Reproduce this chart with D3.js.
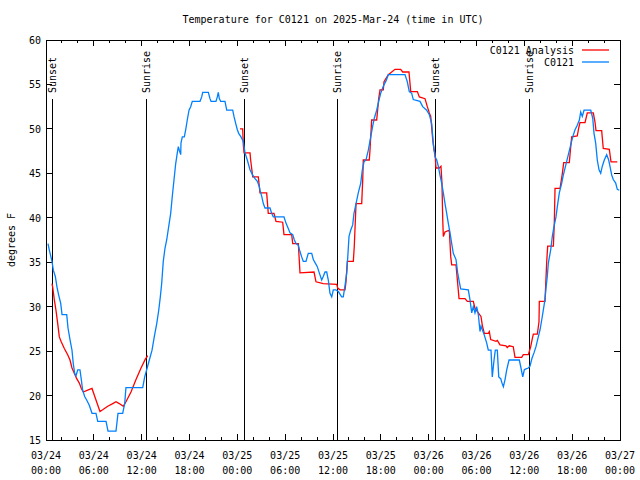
<!DOCTYPE html>
<html lang="en">
<head>
<meta charset="UTF-8">
<title>Temperature for C0121</title>
<style>
  body { margin: 0; background: #fff; }
  svg text { font-family: "DejaVu Sans Mono", "Liberation Mono", monospace; font-size: 10px; fill: #000; }
  .frame { fill: none; stroke: #000; stroke-width: 1; shape-rendering: crispEdges; }
  .tick { stroke: #000; stroke-width: 1; shape-rendering: crispEdges; }
  .sun { stroke: #000; stroke-width: 1.2; shape-rendering: crispEdges; }
</style>
</head>
<body>
<div id="chart"></div>
<script src="https://cdn.jsdelivr.net/npm/d3@7/dist/d3.min.js"></script>
<script>
// hours since 2025-03-24 00:00 UTC, temperature in degrees F
var observed = [
  [0.25,37.1],[0.41,36.4],[0.75,35.1],[0.92,34.1],[1.17,33.4],[1.38,32.2],[1.59,31.3],[1.84,30.4],[2.01,29.1],[2.60,29.1],
  [2.76,27.6],[3.01,26.3],[3.26,25.1],[3.42,23.6],[3.60,22.5],[3.76,22.2],[3.98,22.9],[4.26,22.9],[4.43,21.8],[4.60,20.6],
  [4.85,19.9],[5.10,19.5],[5.43,18.9],[5.77,18.0],[6.27,18.0],[6.49,17.1],[7.53,17.1],[7.78,16.0],[8.78,16.0],[9.03,18.0],
  [9.62,18.0],[9.87,19.1],[10.03,20.9],[12.13,20.9],[12.38,22.1],[12.63,22.9],[12.96,24.0],[13.30,25.1],[13.58,26.6],[13.89,28.1],
  [14.14,29.6],[14.34,31.1],[14.51,32.6],[14.71,35.1],[14.93,36.6],[15.14,37.5],[15.39,39.0],[15.64,40.5],[15.84,42.4],[16.06,44.3],
  [16.27,46.1],[16.47,47.3],[16.60,48.0],[16.72,47.6],[16.90,47.1],[16.93,48.4],[17.10,49.1],[17.35,49.1],[17.52,49.9],[17.72,51.0],
  [17.94,52.1],[18.15,52.5],[18.35,53.1],[19.32,53.1],[19.53,53.6],[19.66,54.1],[20.36,54.1],[20.57,53.4],[20.70,53.1],[21.32,53.1],
  [21.49,53.6],[21.61,54.1],[21.74,53.4],[21.91,53.1],[22.45,53.1],[22.67,52.1],[23.42,52.1],[23.58,51.4],[23.80,50.6],[24.00,49.9],
  [24.17,49.5],[24.46,49.1],[24.75,48.6],[24.96,47.3],[25.25,46.5],[25.59,45.4],[25.93,44.8],[26.22,44.4],[26.51,44.1],[26.76,43.5],
  [26.84,43.1],[27.06,42.4],[27.26,41.6],[27.47,41.1],[28.10,41.1],[28.31,40.5],[28.51,40.1],[29.85,40.1],[30.10,39.4],[30.39,38.8],
  [30.61,38.3],[30.95,38.1],[31.15,37.5],[31.36,37.1],[31.65,36.9],[31.86,36.2],[32.07,35.6],[32.27,35.1],[32.61,35.1],[32.90,36.0],
  [33.33,36.0],[33.53,35.3],[33.78,34.9],[34.03,34.5],[34.28,33.8],[34.58,33.0],[34.78,33.4],[35.00,33.9],[35.21,33.9],[35.41,33.0],
  [35.62,31.5],[35.84,31.1],[36.04,31.9],[36.34,31.9],[36.67,31.7],[37.09,31.1],[37.29,31.1],[37.51,32.4],[37.72,33.8],[37.88,36.0],
  [38.01,37.9],[38.13,38.3],[38.22,38.6],[38.47,39.2],[38.63,40.5],[38.89,41.6],[39.17,42.8],[39.48,43.9],[39.68,45.4],[39.89,46.3],
  [40.14,46.5],[40.43,47.6],[40.73,49.1],[40.98,50.3],[41.18,51.2],[41.48,52.1],[41.73,53.1],[41.98,54.0],[42.31,54.8],[42.65,55.4],
  [42.94,56.1],[45.03,56.1],[45.32,55.3],[45.57,54.2],[45.87,54.0],[46.07,53.3],[46.91,53.1],[47.25,52.5],[47.75,52.1],[48.08,51.6],
  [48.38,50.6],[48.58,48.4],[48.79,46.9],[49.01,46.5],[49.21,45.8],[49.42,44.8],[49.63,43.9],[49.84,42.8],[50.05,41.6],[50.26,40.5],
  [50.46,39.4],[50.68,38.3],[50.89,37.1],[51.09,36.0],[51.43,35.3],[51.64,33.8],[51.84,32.8],[52.02,32.0],[52.97,31.9],[53.18,30.8],
  [53.40,29.3],[53.60,30.0],[53.81,29.3],[54.02,30.0],[54.23,29.1],[54.44,27.2],[54.56,27.8],[54.73,27.4],[54.98,26.8],[55.28,25.9],
  [55.48,25.1],[55.82,25.1],[55.98,22.1],[56.20,24.0],[56.36,25.1],[56.61,25.1],[56.79,22.1],[57.04,21.9],[57.20,21.4],[57.37,21.0],
  [57.58,21.8],[57.79,22.9],[58.08,24.0],[59.37,24.0],[59.58,23.1],[59.80,22.1],[60.00,22.9],[60.21,23.0],[60.50,23.1],[60.71,23.3],
  [60.96,24.2],[61.21,24.8],[61.46,25.5],[61.75,26.6],[61.97,27.4],[62.18,28.5],[62.38,29.6],[62.59,30.8],[62.72,32.1],[62.88,33.4],
  [63.01,34.9],[63.31,36.4],[63.51,37.9],[63.72,39.0],[63.97,40.1],[64.19,41.6],[64.39,42.8],[64.69,43.9],[64.89,44.8],[65.19,45.9],
  [65.52,47.1],[65.82,48.2],[66.07,49.1],[66.36,49.9],[66.64,50.4],[66.90,51.0],[67.07,51.9],[67.27,51.4],[67.49,52.1],[68.33,52.1],
  [68.58,51.2],[68.74,49.5],[68.95,48.4],[69.15,46.5],[69.37,45.4],[69.58,45.0],[69.78,45.8],[70.03,46.5],[70.33,47.1],[70.58,46.5],
  [70.74,45.8],[70.96,44.8],[71.16,44.3],[71.46,43.9],[71.66,43.2],[71.91,43.1]
];

// analysis; null marks the gap between the two runs
var analysis = [
  [0.75,32.6],[0.84,32.2],[1.04,30.8],[1.25,29.6],[1.47,28.1],[1.67,26.6],[1.88,26.1],[2.30,25.3],[2.72,24.6],[3.01,24.0],
  [3.26,23.1],[3.55,22.5],[3.85,21.9],[4.18,21.4],[4.43,20.8],[4.68,20.4],[5.23,20.6],[5.77,20.8],[6.27,19.5],[6.77,18.2],
  [7.11,18.4],[7.74,18.8],[8.37,19.1],[8.78,19.3],[9.19,19.1],[9.70,18.8],[10.03,19.3],[10.66,20.4],[11.29,21.8],[11.92,23.1],
  [12.46,24.1],[12.76,24.5],
  [13.0,null],
  [24.33,50.0],[24.67,50.0],[24.75,48.2],[24.84,47.3],[25.59,47.3],[25.67,46.5],[25.93,44.6],[26.63,44.6],[26.84,42.8],[27.68,42.8],
  [27.88,40.5],[28.60,40.5],[28.85,39.6],[29.69,39.5],[29.85,38.1],[30.82,38.1],[30.95,37.1],[31.65,37.1],[31.86,33.8],[33.62,33.9],
  [33.87,32.8],[34.78,32.6],[36.47,32.5],[36.59,32.1],[36.88,31.9],[37.51,31.9],[37.63,32.8],[37.80,35.1],[38.55,35.1],[38.67,36.8],
  [38.89,41.6],[39.60,41.6],[39.73,44.3],[39.80,46.5],[40.55,46.5],[40.64,47.6],[40.85,51.0],[41.48,51.0],[41.73,53.4],[41.90,54.4],
  [42.31,54.4],[42.40,55.3],[42.94,56.1],[43.78,56.7],[44.49,56.7],[44.74,56.4],[45.53,56.4],[45.75,54.2],[46.58,54.2],[46.83,53.6],
  [47.54,53.4],[47.83,52.5],[48.08,51.8],[48.26,51.4],[48.51,48.8],[48.67,47.6],[48.79,47.3],[48.92,45.6],[49.33,45.6],[49.54,45.8],
  [49.67,43.9],[49.76,39.9],[49.84,37.9],[50.05,38.4],[50.59,38.6],[50.77,35.6],[50.89,34.7],[51.43,34.7],[51.60,33.0],[51.81,30.9],
  [52.56,30.9],[52.85,30.6],[53.60,30.6],[53.81,29.8],[54.23,29.3],[54.56,28.9],[54.73,27.9],[54.98,27.0],[55.48,27.0],[55.61,27.2],
  [55.78,26.3],[56.45,26.1],[56.61,26.2],[56.95,25.7],[57.70,25.6],[57.86,25.4],[58.11,25.6],[58.61,25.5],[58.83,24.3],[59.67,24.3],
  [59.87,24.6],[60.50,24.6],[60.80,25.5],[61.00,26.4],[61.13,26.9],[61.63,26.9],[61.84,28.3],[61.88,30.6],[62.59,30.6],[62.81,35.1],
  [62.93,36.8],[63.64,36.8],[63.76,39.4],[63.85,43.3],[64.48,43.3],[64.77,45.0],[64.94,46.2],[65.64,46.2],[65.82,48.0],[65.94,49.1],
  [66.64,49.2],[66.82,50.1],[66.98,50.7],[67.61,50.7],[67.90,51.8],[68.65,51.8],[68.86,50.8],[68.99,49.8],[69.70,49.8],[69.90,47.8],
  [70.66,47.7],[70.87,46.3],[71.66,46.3]
];

var sunHours = [0.78, 12.57, 24.85, 36.55, 48.83, 60.62];
var sunLabels = ["Sunset", "Sunrise", "Sunset", "Sunrise", "Sunset", "Sunrise"];
var yTicks = [15, 20, 25, 30, 35, 40, 45, 50, 55, 60];
var seriesNames = ["C0121 Analysis", "C0121"];
var seriesColors = ["#ff0000", "#0080ff"];

var start = Date.UTC(2025, 2, 24);
function toDate(h) { return new Date(start + h * 3600e3); }

var outerWidth = 640, outerHeight = 480,
    margin = {top: 40, right: 20, bottom: 40, left: 46},
    width = outerWidth - margin.left - margin.right,
    height = outerHeight - margin.top - margin.bottom;

var x = d3.scaleUtc().domain([toDate(0), toDate(72)]).range([0, width]);
var y = d3.scaleLinear().domain([15, 60]).range([height, 0]);

var root = d3.select("#chart").append("svg")
    .attr("width", outerWidth)
    .attr("height", outerHeight);

root.append("text")
    .attr("x", margin.left + width / 2)
    .attr("y", 23)
    .attr("text-anchor", "middle")
    .text("Temperature for C0121 on 2025-Mar-24 (time in UTC)");

root.append("text")
    .attr("transform", "translate(15," + (margin.top + height / 2) + ") rotate(-90)")
    .attr("text-anchor", "middle")
    .text("degrees F");

var svg = root.append("g")
    .attr("transform", "translate(" + margin.left + "," + margin.top + ")");

// ticks: major every 6h, minor every 2h, mirrored on top
var minor = d3.utcHour.every(2).range(toDate(0), toDate(72.01));
minor.forEach(function(d) {
    var major = d.getUTCHours() % 6 === 0;
    var len = major ? 6 : 3;
    svg.append("line").attr("class", "tick")
        .attr("x1", x(d)).attr("x2", x(d)).attr("y1", height).attr("y2", height - len);
    svg.append("line").attr("class", "tick")
        .attr("x1", x(d)).attr("x2", x(d)).attr("y1", 0).attr("y2", len);
});

var fmtDay = d3.utcFormat("%m/%d"), fmtTime = d3.utcFormat("%H:%M");
d3.utcHour.every(6).range(toDate(0), toDate(72.01)).forEach(function(d) {
    var t = svg.append("text")
        .attr("x", x(d))
        .attr("y", height + 19)
        .attr("text-anchor", "middle");
    t.append("tspan").attr("x", x(d)).text(fmtDay(d));
    t.append("tspan").attr("x", x(d)).attr("dy", 15).text(fmtTime(d));
});

yTicks.forEach(function(v) {
    svg.append("line").attr("class", "tick")
        .attr("x1", 0).attr("x2", 6).attr("y1", y(v)).attr("y2", y(v));
    svg.append("line").attr("class", "tick")
        .attr("x1", width).attr("x2", width - 6).attr("y1", y(v)).attr("y2", y(v));
    svg.append("text")
        .attr("x", -5)
        .attr("y", y(v) + 4)
        .attr("text-anchor", "end")
        .text(v);
});

// sunrise / sunset markers
sunHours.forEach(function(h, i) {
    var sx = x(toDate(h));
    svg.append("line").attr("class", "sun")
        .attr("x1", sx).attr("x2", sx).attr("y1", 59).attr("y2", height);
    svg.append("text")
        .attr("transform", "translate(" + (sx + 4) + ",53) rotate(-90)")
        .attr("text-anchor", "start")
        .text(sunLabels[i]);
});

var line = d3.line()
    .defined(function(d) { return d[1] !== null; })
    .x(function(d) { return x(toDate(d[0])); })
    .y(function(d) { return y(d[1]); });

svg.append("path").datum(analysis)
    .attr("fill", "none").attr("stroke", seriesColors[0]).attr("stroke-width", 1.3)
    .attr("d", line);

svg.append("path").datum(observed)
    .attr("fill", "none").attr("stroke", seriesColors[1]).attr("stroke-width", 1.3)
    .attr("d", line);

// legend
seriesNames.forEach(function(name, i) {
    var ly = 10 + i * 12;
    svg.append("text")
        .attr("x", 528).attr("y", ly + 4)
        .attr("text-anchor", "end")
        .text(name);
    svg.append("line")
        .attr("x1", 536).attr("x2", 563).attr("y1", ly).attr("y2", ly)
        .attr("stroke", seriesColors[i]).attr("stroke-width", 1.3);
});

svg.append("rect").attr("class", "frame")
    .attr("x", 0).attr("y", 0).attr("width", width).attr("height", height);
</script>
</body>
</html>
